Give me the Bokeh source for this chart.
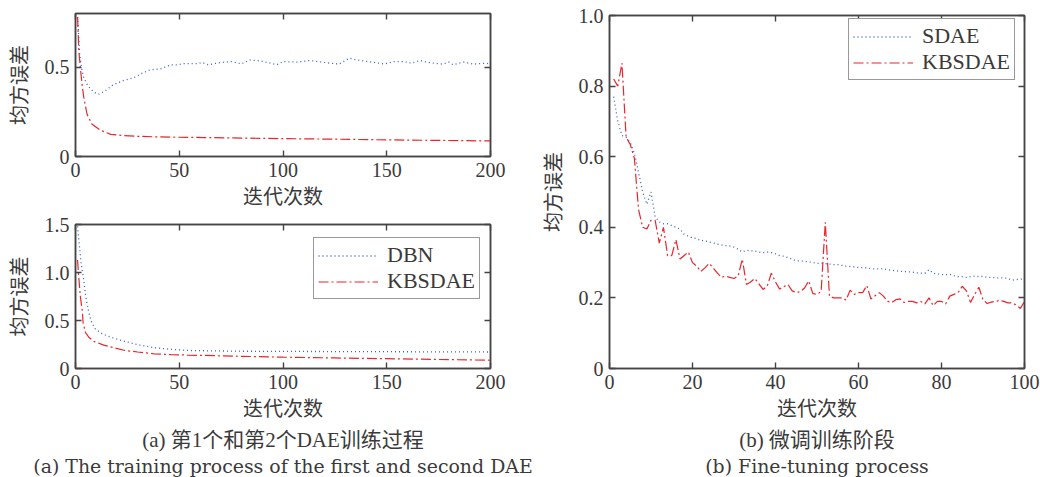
from bokeh.plotting import figure
from bokeh.models import (LinearAxis, Legend, LegendItem, Title, FixedTicker, Range1d,
                          CustomLabelingPolicy)
from bokeh.layouts import row, column
from bokeh.embed import file_html
from bokeh.resources import INLINE

# ---- data -------------------------------------------------------------
# (a) first DAE layer: reconstruction MSE vs. iteration
dae1_x = [1, 2, 3, 4, 6, 8, 10, 11, 14, 18, 23, 28, 32, 36, 41, 46, 49, 52, 56, 59,
          61, 64, 67, 70, 75, 80, 84, 89, 94, 97, 100, 107, 113, 120, 127, 132, 137,
          144, 149, 153, 158, 162, 166, 171, 177, 180, 182, 187, 192, 198, 200]
dae1_dbn = [0.78, 0.57, 0.49, 0.44, 0.395, 0.37, 0.352, 0.348, 0.365, 0.40, 0.425,
            0.44, 0.465, 0.485, 0.49, 0.513, 0.513, 0.52, 0.52, 0.52, 0.526, 0.513,
            0.52, 0.526, 0.531, 0.518, 0.54, 0.535, 0.522, 0.513, 0.531, 0.528, 0.537,
            0.526, 0.517, 0.55, 0.537, 0.526, 0.517, 0.531, 0.531, 0.522, 0.537,
            0.524, 0.517, 0.528, 0.513, 0.528, 0.517, 0.522, 0.515]
dae1_kx = [1, 1.6, 2.4, 3.2, 4, 5.6, 8, 12, 17, 23, 30, 38, 46, 62, 80, 100, 125,
           150, 175, 200]
dae1_kbsdae = [0.78, 0.59, 0.49, 0.40, 0.33, 0.235, 0.18, 0.147, 0.124, 0.117,
               0.113, 0.11, 0.108, 0.106, 0.103, 0.10, 0.097, 0.093, 0.09, 0.087]

# (a) second DAE layer
dae2_x = [1, 1.5, 2, 2.7, 3.4, 4, 4.8, 5.9, 6.9, 8, 9.6, 13, 17, 22, 26.5, 31, 38,
          46, 54, 62, 80, 100, 150, 200]
dae2_dbn = [1.48, 1.36, 1.25, 1.10, 1.0, 0.92, 0.77, 0.64, 0.54, 0.47, 0.41, 0.36,
            0.326, 0.293, 0.267, 0.244, 0.217, 0.20, 0.188, 0.185, 0.18, 0.178,
            0.175, 0.172]
dae2_kx = [1, 1.5, 2, 2.4, 3.2, 3.7, 4.8, 6.4, 8.8, 13.6, 18.5, 23.3, 30, 38, 46,
           54, 62, 80, 100, 125, 150, 175, 200]
dae2_kbsdae = [1.13, 0.97, 0.84, 0.74, 0.61, 0.47, 0.375, 0.326, 0.283, 0.244,
               0.217, 0.19, 0.172, 0.152, 0.145, 0.14, 0.136, 0.127, 0.118, 0.11,
               0.102, 0.094, 0.086]

# (b) fine-tuning, iterations 1..100
ft_x = list(range(1, 101))
ft_sdae = [0.77, 0.70, 0.66, 0.655, 0.64, 0.61, 0.555, 0.50, 0.465, 0.50,
           0.43, 0.415, 0.41, 0.41, 0.405, 0.40, 0.395, 0.38, 0.375, 0.37,
           0.368, 0.362, 0.362, 0.358, 0.356, 0.352, 0.35, 0.348, 0.347, 0.344,
           0.338, 0.33, 0.335, 0.333, 0.333, 0.33, 0.328, 0.33, 0.328, 0.325,
           0.32, 0.318, 0.314, 0.31, 0.305, 0.305, 0.303, 0.302, 0.30, 0.298,
           0.298, 0.297, 0.296, 0.294, 0.294, 0.292, 0.29, 0.289, 0.288, 0.286,
           0.286, 0.285, 0.283, 0.282, 0.282, 0.283, 0.28, 0.278, 0.277, 0.275,
           0.275, 0.274, 0.273, 0.271, 0.27, 0.27, 0.28, 0.27, 0.268, 0.266,
           0.266, 0.267, 0.263, 0.26, 0.26, 0.258, 0.26, 0.262, 0.26, 0.261,
           0.258, 0.258, 0.257, 0.257, 0.257, 0.255, 0.25, 0.252, 0.253, 0.254]
ft_kbsdae = [0.82, 0.80, 0.865, 0.655, 0.635, 0.595, 0.45, 0.40, 0.395, 0.42,
             0.42, 0.355, 0.40, 0.32, 0.32, 0.365, 0.31, 0.32, 0.33, 0.30,
             0.29, 0.275, 0.285, 0.298, 0.285, 0.27, 0.258, 0.262, 0.258, 0.255,
             0.262, 0.31, 0.238, 0.245, 0.255, 0.24, 0.224, 0.233, 0.27, 0.245,
             0.225, 0.232, 0.238, 0.22, 0.215, 0.218, 0.228, 0.248, 0.212, 0.21,
             0.218, 0.414, 0.205, 0.20, 0.20, 0.20, 0.194, 0.222, 0.21, 0.215,
             0.215, 0.235, 0.197, 0.206, 0.215, 0.205, 0.19, 0.187, 0.195, 0.197,
             0.187, 0.19, 0.19, 0.186, 0.19, 0.183, 0.20, 0.178, 0.19, 0.19,
             0.183, 0.205, 0.21, 0.215, 0.233, 0.22, 0.187, 0.21, 0.23, 0.195,
             0.184, 0.188, 0.19, 0.193, 0.19, 0.186, 0.186, 0.18, 0.17, 0.19]

ticks_x200 = [0, 50, 100, 150, 200]
ticks_x100 = [0, 20, 40, 60, 80, 100]
ticks_y_a1 = {0: "0", 0.5: "0.5"}
ticks_y_a2 = {0: "0", 0.5: "0.5", 1.0: "1.0", 1.5: "1.5"}
ticks_y_b = {0: "0", 0.2: "0.2", 0.4: "0.4", 0.6: "0.6", 0.8: "0.8", 1.0: "1.0"}

x_title = "迭代次数"
y_title = "均方误差"
cap_a_cn = "(a) 第1个和第2个DAE训练过程"
cap_a_en = "(a) The training process of the first and second DAE"
cap_b_cn = "(b) 微调训练阶段"
cap_b_en = "(b) Fine-tuning process"

# ---- styling ----------------------------------------------------------
SERIF = "Liberation Serif"
WIDE_SERIF = "DejaVu Serif"
CJK = "Noto Sans CJK SC"
MIXED = "'Liberation Serif', 'Noto Sans CJK SC'"
INK = "#3a3a3a"
FRAME = "#444444"
BLUE = "#3461d0"
RED = "#e8262c"

# mirrored axes carry tick marks only, no labels
NO_LABELS = CustomLabelingPolicy(code="""
    const ids = [...indices]
    for (const i of ids) { indices.unset(i) }
    return indices
""")


def style_axis(ax, ticks, labels=None, show_labels=True):
    ax.ticker = FixedTicker(ticks=list(ticks))
    if labels is not None:
        ax.major_label_overrides = labels
    ax.axis_line_color = FRAME
    ax.axis_line_width = 1.5
    ax.major_tick_line_color = FRAME
    ax.major_tick_line_width = 1.4
    ax.major_tick_in = 6
    ax.major_tick_out = 0
    ax.minor_tick_line_color = None
    ax.major_label_text_font = SERIF
    ax.major_label_text_color = INK
    if show_labels:
        ax.major_label_text_font_size = "20px"
        ax.major_label_standoff = 6
    else:
        ax.major_label_text_font_size = "0px"
        ax.major_label_policy = NO_LABELS
        ax.major_label_standoff = 0
    ax.axis_label_text_font = CJK
    ax.axis_label_text_font_size = "20px"
    ax.axis_label_text_font_style = "normal"
    ax.axis_label_text_color = INK


def make_panel(width, height, xr, yr, borders, xticks, yticks):
    left, right, top, bottom = borders
    p = figure(width=width, height=height,
               x_range=Range1d(*xr), y_range=Range1d(*yr),
               output_backend="svg", toolbar_location=None,
               min_border_left=left, min_border_right=right,
               min_border_top=top, min_border_bottom=bottom)
    p.grid.visible = False
    p.outline_line_color = FRAME
    p.outline_line_width = 1.5
    p.border_fill_color = "white"
    p.background_fill_color = "white"
    style_axis(p.xaxis[0], xticks, {t: str(t) for t in xticks})
    style_axis(p.yaxis[0], list(yticks.keys()), yticks)
    p.xaxis[0].axis_label = x_title
    p.xaxis[0].axis_label_standoff = 1
    p.yaxis[0].axis_label = y_title
    p.yaxis[0].axis_label_standoff = 9
    top_ax = LinearAxis()
    style_axis(top_ax, xticks, show_labels=False)
    p.add_layout(top_ax, "above")
    right_ax = LinearAxis()
    style_axis(right_ax, list(yticks.keys()), show_labels=False)
    p.add_layout(right_ax, "right")
    return p


def add_legend(p, items, loc):
    leg = Legend(items=items, location=loc)
    leg.border_line_color = "#333333"
    leg.border_line_width = 1.5
    leg.label_text_font = SERIF
    leg.label_text_font_size = "22px"
    leg.label_text_color = INK
    leg.glyph_width = 60
    leg.glyph_height = 25
    leg.label_height = 25
    leg.label_standoff = 9
    leg.padding = 4
    leg.spacing = 0
    leg.margin = 0
    p.add_layout(leg)


def add_caption(p, text, font, size, standoff):
    t = Title(text=text, align="center", text_font=font, text_font_size=size,
              text_font_style="normal", text_color=INK, standoff=standoff)
    p.add_layout(t, "below")


# ---- (a) upper panel ------------------------------------------------
pa1 = make_panel(532, 212, (0, 200), (0, 0.8), (75, 42, 13, 56),
                 ticks_x200, ticks_y_a1)
pa1.line(dae1_x, dae1_dbn, line_color=BLUE, line_width=1.3, line_dash="1 3")
pa1.line(dae1_kx, dae1_kbsdae, line_color=RED, line_width=1.2, line_dash="10 3 2 3")

# ---- (a) lower panel ------------------------------------------------
pa2 = make_panel(532, 265, (0, 200), (0, 1.5), (75, 42, 12, 103),
                 ticks_x200, ticks_y_a2)
r_dbn = pa2.line(dae2_x, dae2_dbn, line_color=BLUE, line_width=1.3, line_dash="1 3")
r_kb2 = pa2.line(dae2_kx, dae2_kbsdae, line_color=RED, line_width=1.2,
                 line_dash="10 3 2 3")
add_legend(pa2, [LegendItem(label="DBN", renderers=[r_dbn]),
                 LegendItem(label="KBSDAE", renderers=[r_kb2])], (238, 69))
add_caption(pa2, cap_a_cn, MIXED, "21px", 2)
add_caption(pa2, cap_a_en, WIDE_SERIF, "18.9px", 1)

# ---- (b) fine-tuning panel -----------------------------------------
pb = make_panel(508, 477, (0, 100), (0, 1.0), (77, 16, 15, 101),
                ticks_x100, ticks_y_b)
r_sdae = pb.line(ft_x, ft_sdae, line_color=BLUE, line_width=1.3, line_dash="1 3")
r_kb3 = pb.line(ft_x, ft_kbsdae, line_color=RED, line_width=1.2, line_dash="10 3 2 3")
add_legend(pb, [LegendItem(label="SDAE", renderers=[r_sdae]),
                LegendItem(label="KBSDAE", renderers=[r_kb3])], (239, 288))
add_caption(pb, cap_b_cn, MIXED, "21px", 2)
add_caption(pb, cap_b_en, WIDE_SERIF, "18.9px", 1)

layout = row(column(pa1, pa2), pb)

with open("out.html", "w") as f:
    f.write(file_html(layout, INLINE))
